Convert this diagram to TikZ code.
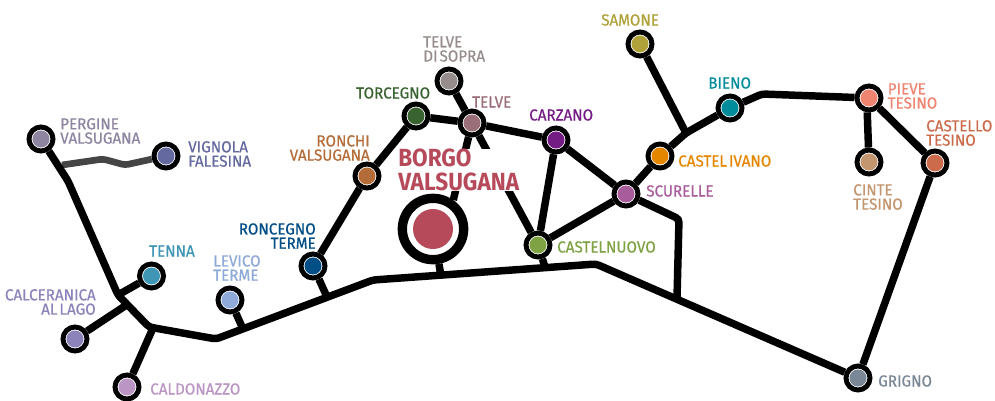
\documentclass[tikz,border=0pt]{standalone}
\usepackage{fontspec}
\setmainfont[FakeStretch=0.95,FakeBold=0.5,WordSpace=0.5]{Fira Sans}
\newfontfamily\boldlab[FakeStretch=0.91,WordSpace=0.5]{Fira Sans}
\definecolor{cPergine}{HTML}{8E85A0}
\definecolor{cVignola}{HTML}{6469A0}
\definecolor{cTenna}{HTML}{3F96B4}
\definecolor{cCalc}{HTML}{8D83BB}
\definecolor{cCald}{HTML}{BB96C4}
\definecolor{cLevico}{HTML}{8FAAD8}
\definecolor{cRonc}{HTML}{004E86}
\definecolor{cRonchi}{HTML}{B46C39}
\definecolor{cTorc}{HTML}{3A6332}
\definecolor{cTelveS}{HTML}{958C8B}
\definecolor{cTelve}{HTML}{9B6F7A}
\definecolor{cCarz}{HTML}{751C84}
\definecolor{cBorgo}{HTML}{B64A5A}
\definecolor{cCastN}{HTML}{7FA245}
\definecolor{cScur}{HTML}{A95C9C}
\definecolor{cIvano}{HTML}{E58600}
\definecolor{cSamone}{HTML}{B0A23A}
\definecolor{cBieno}{HTML}{008C9A}
\definecolor{cPieve}{HTML}{EF8571}
\definecolor{cCinte}{HTML}{C3966F}
\definecolor{cCastT}{HTML}{CC6B4B}
\definecolor{cGrigno}{HTML}{7A8796}
\tikzset{
  station/.style={circle,draw=black,fill=white,line width=3.7pt,inner sep=0pt,minimum size=18pt,
    path picture={\fill[#1] (path picture bounding box.center) circle (6.4pt);}},
  bigstation/.style={circle,draw=black,fill=white,line width=7pt,inner sep=0pt,minimum size=46pt,
    path picture={\fill[#1] (path picture bounding box.center) circle (15pt);}},
  rail/.style={line width=5.6pt,draw=black,rounded corners=2.5pt,line cap=butt},
  spur/.style={line width=5pt,draw=black!73,rounded corners=2.5pt},
  lab/.style={inner sep=0pt,text=#1,font=\fontsize{12}{10.7}\selectfont},
  lableft/.style={lab=#1,anchor=west,align=left},
  labright/.style={lab=#1,anchor=east,align=right},
  biglab/.style={inner sep=0pt,fill=white,text=#1,anchor=west,align=left,font=\boldlab\bfseries\fontsize{18.6}{18}\selectfont}
}
\begin{document}
\begin{tikzpicture}[x=0.75pt,y=-0.75pt]
\useasboundingbox[fill=white] (0,0) rectangle (995,400);
% stations
\node[station=cPergine] (pergine) at (41,139) {};
\node[station=cVignola] (vignola) at (166,156) {};
\node[station=cTenna] (tenna) at (151.5,276) {};
\node[station=cCalc] (calc) at (75,339) {};
\node[station=cCald] (cald) at (127,387) {};
\node[station=cLevico] (levico) at (230,300) {};
\node[station=cRonc] (roncegno) at (313,266) {};
\node[station=cRonchi] (ronchi) at (367,176) {};
\node[station=cTorc] (torcegno) at (416,116) {};
\node[station=cTelveS] (telves) at (449,81) {};
\node[station=cTelve] (telve) at (472,123) {};
\node[station=cCarz] (carzano) at (556,140) {};
\node[bigstation=cBorgo] (borgo) at (433,229) {};
\node[station=cCastN] (castn) at (538,245) {};
\node[station=cScur] (scurelle) at (626,194) {};
\node[station=cIvano] (ivano) at (660,156) {};
\node[station=cSamone] (samone) at (640,44) {};
\node[station=cBieno] (bieno) at (730,108) {};
\node[station=cPieve] (pieve) at (869,98) {};
\node[station=cCinte] (cinte) at (869,162) {};
\node[station=cCastT] (castt) at (935,163) {};
\node[station=cGrigno] (grigno) at (858,378) {};
% junctions
\coordinate (jA) at (68,181);
\coordinate (jB) at (118,295);
\coordinate (jC) at (149,327);
\coordinate (jD) at (216,339);
\coordinate (jE) at (373,280);
\coordinate (jF) at (596,264);
\coordinate (jCalc) at (128,304);
\coordinate (jCald) at (153,328);
\coordinate (jLev) at (243,329);
\coordinate (jRon) at (327,297);
\coordinate (jBor) at (441,276);
\coordinate (jCast) at (545,267);
\coordinate (jScA) at (679,219);
\coordinate (jScB) at (677,298);
\coordinate (jIv) at (686,133);
\coordinate (jBi) at (762,94);
\coordinate (jV) at (62,165);
\coordinate (vA) at (103,159);
\coordinate (vB) at (125,165);
% connectors
\draw[spur] (jV) -- (vA) -- (vB) -- (vignola);
\draw[rail] (pergine) -- (jA) -- (jB) -- (jC) -- (jD) -- (jE) -- (jF) -- (grigno);
\draw[rail] (tenna) -- (jB);
\draw[rail] (calc) -- (jCalc);
\draw[rail] (cald) -- (jCald);
\draw[rail] (levico) -- (jLev);
\draw[rail] (roncegno) -- (jRon);
\draw[rail] (roncegno) -- (ronchi);
\draw[rail] (ronchi) -- (torcegno);
\draw[rail] (torcegno) -- (telve);
\draw[rail] (telves) -- (telve);
\draw[rail] (telve) -- (carzano);
\draw[rail] (telve) -- (borgo.55);
\draw[rail] (telve) -- (castn);
\draw[rail] (carzano) -- (castn);
\draw[rail] (carzano) -- (scurelle);
\draw[rail] (castn) -- (scurelle);
\draw[rail] (borgo) -- (jBor);
\draw[rail] (castn) -- (jCast);
\draw[rail] (scurelle) -- (jScA) -- (jScB);
\draw[rail] (scurelle) -- (ivano);
\draw[rail] (ivano) -- (jIv) -- (bieno);
\draw[rail] (samone) -- (jIv);
\draw[rail] (bieno) -- (jBi) -- (pieve);
\draw[rail] (pieve.263) -- (cinte);
\draw[rail] (pieve) -- (castt);
\draw[rail] (castt) -- (grigno);
% labels
\node[lableft=cPergine] (lPergine) at (60,131) {PERGINE\\VALSUGANA};
\node[lableft=cVignola] (lVignola) at (188,154) {VIGNOLA\\FALESINA};
\node[lableft=cTenna] (lTenna) at (149,251) {TENNA};
\node[labright=cCalc] (lCalc) at (96,302) {CALCERANICA\\AL LAGO};
\node[lableft=cCald] (lCald) at (150,389) {CALDONAZZO};
\node[lableft=cLevico] (lLevico) at (213,268) {LEVICO\\TERME};
\node[labright=cRonc] (lRonc) at (316,236) {RONCEGNO\\TERME};
\node[labright=cRonchi] (lRonchi) at (370,148) {RONCHI\\VALSUGANA};
\node[lableft=cTorc] (lTorc) at (356,93) {TORCEGNO};
\node[lableft=cTelveS] (lTelveS) at (423,49) {TELVE\\DI SOPRA};
\node[lableft=cTelve] (lTelve) at (472,102) {TELVE};
\node[lableft=cCarz] (lCarz) at (529,115) {CARZANO};
\node[biglab=cBorgo] (lBorgo) at (398,170) {BORGO\\VALSUGANA};
\node[lableft=cCastN] (lCastN) at (557,247) {CASTELNUOVO};
\node[lableft=cScur] (lScur) at (646,191) {SCURELLE};
\node[lableft=cIvano] (lIvano) at (678,161) {CASTEL IVANO};
\node[lableft=cSamone] (lSamone) at (601,20) {SAMONE};
\node[lableft=cBieno] (lBieno) at (708,83) {BIENO};
\node[lableft=cPieve] (lPieve) at (887.5,96) {PIEVE\\TESINO};
\node[lableft=cCastT] (lCastT) at (926,133) {CASTELLO\\TESINO};
\node[lableft=cCinte] (lCinte) at (853,197) {CINTE\\TESINO};
\node[lableft=cGrigno] (lGrigno) at (878,381) {GRIGNO};
\end{tikzpicture}
\end{document}
